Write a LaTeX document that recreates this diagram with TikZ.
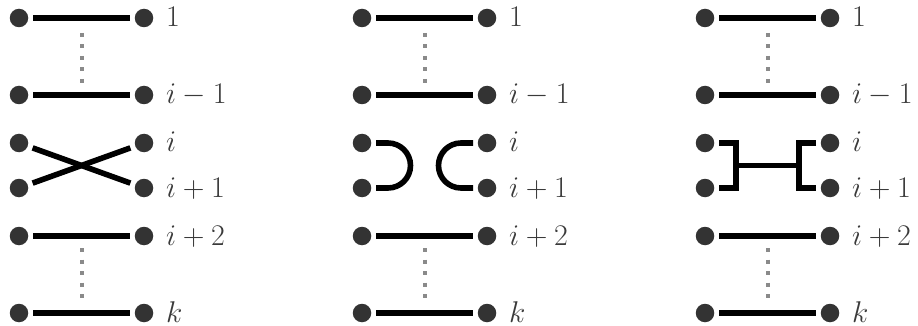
\documentclass[tikz,border=0pt]{standalone}
\usepackage{fix-cm}
\definecolor{dotgray}{HTML}{333333}
\definecolor{labgray}{HTML}{3A3A3A}
\definecolor{dashgray}{HTML}{8A8A8A}
\tikzset{
  dot/.style={circle, fill=dotgray, draw=none, minimum size=18.5pt, inner sep=0pt},
  bar/.style={line width=5.6pt, black, shorten >=5pt, shorten <=5pt},
  stroke/.style={line width=5.6pt, black, line join=miter},
  dotline/.style={line width=4pt, dashgray, dash pattern=on 4pt off 7.5pt},
  lab/.style={anchor=base west, inner sep=0pt, text=labgray, font=\fontsize{30}{36}\selectfont}
}
\begin{document}
\begin{tikzpicture}[x=1pt,y=-1pt]
\useasboundingbox (0,0) rectangle (918,326);
\foreach \p/\ox in {1/0,2/343,3/686} {
  \foreach \r/\y in {1/18,2/95,3/143,4/188,5/236,6/313} {
    \node[dot] (L\p\r) at (19+\ox,\y) {};
    \node[dot] (R\p\r) at (144+\ox,\y) {};
  }
  \foreach \r in {1,2,5,6} \draw[bar] (L\p\r) -- (R\p\r);
  \coordinate (T\p a) at (81.5+\ox,33);
  \coordinate (T\p b) at (81.5+\ox,83);
  \coordinate (B\p a) at (81.5+\ox,248);
  \coordinate (B\p b) at (81.5+\ox,298);
  \draw[dotline] (T\p a) -- (T\p b);
  \draw[dotline] (B\p a) -- (B\p b);
  \foreach \r/\t in {1/{$1$},2/{$i-1$},3/{$i$},4/{$i+1$},5/{$i+2$},6/{$k$}}
    \node[lab] (N\p\r) at ([shift={(22,9)}]R\p\r.center) {\t};
}
% panel 1: crossing
\draw[bar] (L13) -- (R14);
\draw[bar] (L14) -- (R13);
% panel 2: caps
\draw[stroke] ([xshift=14pt]L23.center) -- ++(12,0) arc[start angle=-90,end angle=90,radius=22.5] -- ++(-12,0);
\draw[stroke] ([xshift=-14pt]R23.center) -- ++(-12,0) arc[start angle=-90,end angle=-270,radius=22.5] -- ++(12,0);
% panel 3: brackets
\draw[stroke] ([xshift=14pt]L33.center) -- ++(17,0) -- ++(0,45) -- ++(-17,0);
\draw[stroke] ([xshift=-14pt]R33.center) -- ++(-17,0) -- ++(0,45) -- ++(17,0);
\draw[stroke] ([shift={(31,22.5)}]L33.center) -- ([shift={(-31,22.5)}]R33.center);
\end{tikzpicture}
\end{document}
